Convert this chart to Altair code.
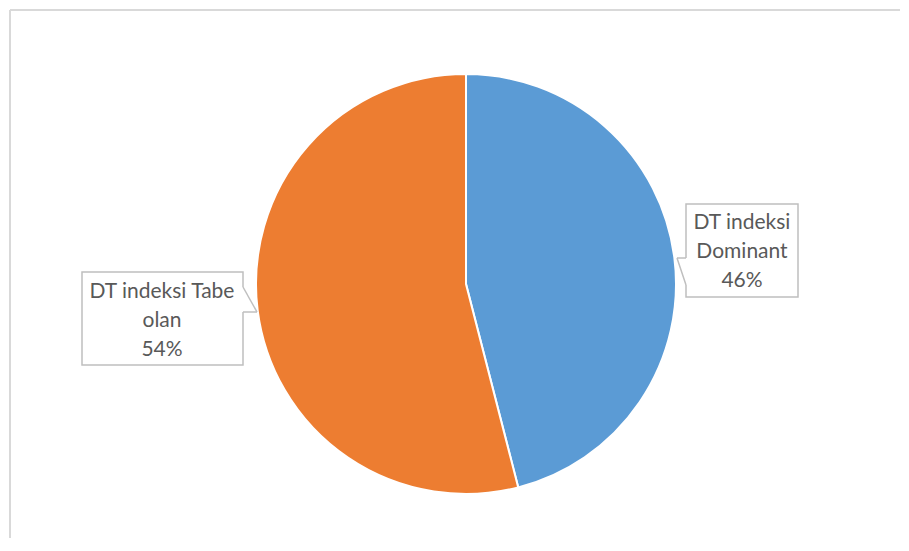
import altair as alt
import pandas as pd

categories = ["DT indeksi Dominant", "DT indeksi Tabe olan"]
shares = [46, 54]
labels = ["DT indeksi\nDominant\n46%", "DT indeksi Tabe\nolan\n54%"]
colors = ["#5B9BD5", "#ED7D31"]

df = pd.DataFrame({"category": categories, "share": shares, "label": labels,
                   "idx": list(range(len(categories)))})

base = alt.Chart(df)

pie = base.mark_arc(outerRadius=210, stroke="white", strokeWidth=2).encode(
    theta=alt.Theta("share:Q", stack=True),
    color=alt.Color("category:N", scale=alt.Scale(domain=categories, range=colors), legend=None),
    order=alt.Order("idx:Q"),
    x=alt.value(456), y=alt.value(274),
)

border_color = "#D9D9D9"
frame_top = base.transform_filter(alt.datum.idx == 0).mark_rule(color=border_color, strokeWidth=2).encode(
    x=alt.value(0), x2=alt.value(900), y=alt.value(0), y2=alt.value(0))
frame_left = base.transform_filter(alt.datum.idx == 0).mark_rule(color=border_color, strokeWidth=2).encode(
    x=alt.value(0), x2=alt.value(0), y=alt.value(0), y2=alt.value(545))

box_stroke = "#BFBFBF"

def callout(cat, x0, x1, y0, y1, gap_x, gap_y0, gap_y1, tip_x, tip_y, tx, ty):
    sub = base.transform_filter(alt.datum.category == cat)
    rect = sub.mark_rect(fill="white", stroke=box_stroke, strokeWidth=1.5).encode(
        x=alt.value(x0), x2=alt.value(x1), y=alt.value(y0), y2=alt.value(y1))
    gap = sub.mark_rule(color="white", strokeWidth=2.5).encode(
        x=alt.value(gap_x), x2=alt.value(gap_x), y=alt.value(gap_y0), y2=alt.value(gap_y1))
    p1 = sub.mark_rule(color=box_stroke, strokeWidth=1.5).encode(
        x=alt.value(gap_x), x2=alt.value(tip_x), y=alt.value(gap_y0), y2=alt.value(tip_y))
    p2 = sub.mark_rule(color=box_stroke, strokeWidth=1.5).encode(
        x=alt.value(tip_x), x2=alt.value(gap_x), y=alt.value(tip_y), y2=alt.value(gap_y1))
    txt = sub.mark_text(font="Lato", fontSize=21, color="#595959", lineBreak="\n",
                        lineHeight=29, align="center", baseline="middle").encode(
        text="label:N", x=alt.value(tx), y=alt.value(ty))
    return [rect, gap, p1, p2, txt]

layers = [pie, frame_top, frame_left]
layers += callout(categories[0], 676, 788, 194, 287, 676, 248, 275, 667, 248, 732, 213)
layers += callout(categories[1], 72, 233, 262, 355, 233, 277, 302, 247, 302, 152, 282)

chart = alt.layer(*layers).properties(
    width=890, height=528,
    padding={"left": 2, "top": 2, "right": 0, "bottom": 0},
    autosize=alt.AutoSizeParams(type="none"),
    background="white",
).configure_view(stroke=None)

chart.save("out.html", embed_options={"renderer": "svg", "actions": False})
